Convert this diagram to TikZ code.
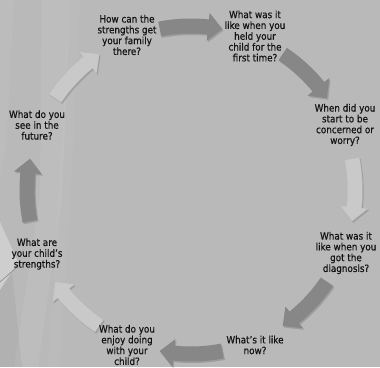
\documentclass[tikz,border=0pt]{standalone}
\usepackage{fontspec}
\setmainfont{DejaVu Sans}[FakeStretch=0.88,FakeBold=0.6]
\definecolor{bgc}{HTML}{B9B9B9}
\definecolor{darkarrow}{HTML}{878787}
\definecolor{lightarrow}{HTML}{C9C9C9}
\definecolor{txt}{HTML}{141414}
\newcommand\cycarrow[2]{%
 \pgfmathsetmacro\aA{#1+11}\pgfmathsetmacro\aB{#1-11}\pgfmathsetmacro\aH{#1-6}%
 \fill[black,opacity=0.15,shift={(1.2,-1.5)}] (\aA:171.5) arc[start angle=\aA, end angle=\aH, radius=171.5] -- (\aH:178) -- (\aB:164) -- (\aH:150) -- (\aH:156.5) arc[start angle=\aH, end angle=\aA, radius=156.5] -- cycle;
 \path[#2] (\aA:171.5) arc[start angle=\aA, end angle=\aH, radius=171.5] -- (\aH:178) -- (\aB:164) -- (\aH:150) -- (\aH:156.5) arc[start angle=\aH, end angle=\aA, radius=156.5] -- cycle;}
\begin{document}
\begin{tikzpicture}[x=1pt,y=1pt,
  q/.style={align=center, inner sep=0pt, text=txt, font=\fontsize{10}{10.8}\selectfont},
  darkarr/.style={fill=darkarrow},
  lightarr/.style={fill=lightarrow, draw=black!28, line width=0.3pt}]
\useasboundingbox (0,0) rectangle (380,367);
\fill[bgc] (0,0) rectangle (380,367);
% left decorative bands
\fill[white,opacity=0.07] (42,367) -- (70,367) -- (62,170) -- (38,0) -- (14,0) -- (40,170) -- cycle;
\fill[white,opacity=0.05] (0,367) -- (14,367) -- (6,220) -- (0,190) -- cycle;
\fill[white,opacity=0.04] (70,367) -- (80,367) -- (72,200) -- (60,0) -- (48,0) -- cycle;
\fill[white,opacity=0.3] (0,145) -- (18,105) -- (0,77) -- cycle;
\fill[black,opacity=0.04] (0,77) -- (12,95) -- (22,0) -- (0,0) -- cycle;
\draw[black!55,line width=0.4pt] (0,85) -- (17,100);
% arrows
\begin{scope}[shift={(191,177)}]
\cycarrow{90}{darkarr}
\cycarrow{45}{darkarr}
\cycarrow{0}{lightarr}
\cycarrow{-45}{darkarr}
\cycarrow{-90}{darkarr}
\cycarrow{-135}{lightarr}
\cycarrow{180}{darkarr}
\cycarrow{135}{lightarr}
\end{scope}
% texts
\node[q] (n1) at (127,332) {How can the\\strengths get\\your family\\there?};
\node[q] (n2) at (255,331) {What was it\\like when you\\held your\\child for the\\first time?};
\node[q] (n3) at (345,242) {When did you\\start to be\\concerned or\\worry?};
\node[q] (n4) at (346,114) {What was it\\like when you\\got the\\diagnosis?};
\node[q] (n5) at (255,22) {What's it like\\now?};
\node[q] (n6) at (127,22) {What do you\\enjoy doing\\with your\\child?};
\node[q] (n7) at (37,113) {What are\\your child's\\strengths?};
\node[q] (n8) at (37,242) {What do you\\see in the\\future?};
\end{tikzpicture}
\end{document}
